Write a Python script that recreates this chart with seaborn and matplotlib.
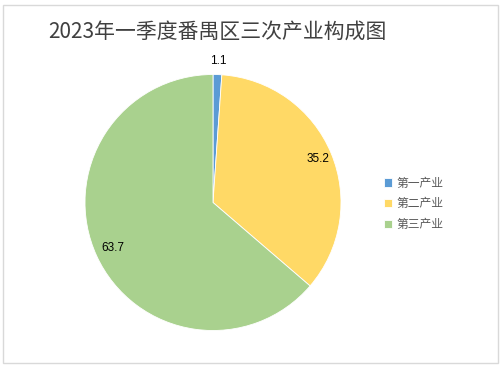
import matplotlib
matplotlib.use("Agg")
import matplotlib.pyplot as plt
import seaborn as sns
import numpy as np
from matplotlib.patches import Rectangle

categories = ["第一产业", "第二产业", "第三产业"]
values = [1.1, 35.2, 63.7]
value_labels = ["1.1", "35.2", "63.7"]
colors = ["#5B9BD5", "#FFD966", "#A9D18E"]
title = "2023年一季度番禺区三次产业构成图"

sns.set_theme(style="white")
plt.rcParams['font.family'] = ['Noto Sans CJK SC', 'DejaVu Sans']

fig = plt.figure(figsize=(5.03, 3.68), dpi=100)
ax = fig.add_axes([85/503, (368-330.5)/368, 256/503, 256/368])

wedges, _ = ax.pie(values, colors=colors, startangle=90, counterclock=False,
                   radius=1.0, wedgeprops=dict(edgecolor="white", linewidth=0.6))
ax.set_xlim(-1, 1)
ax.set_ylim(-1, 1)
ax.set_aspect("equal")
ax.axis("off")

dists = [1.11, 0.89, 0.86]
for w, lab, d in zip(wedges, value_labels, dists):
    ang = np.deg2rad((w.theta1 + w.theta2) / 2)
    ax.text(d * np.cos(ang), d * np.sin(ang), lab, ha="center", va="center",
            fontsize=8.5, color="#000000", family=["Liberation Sans"])

fig.text(48/503, 1 - 32/368, title, ha="left", va="center", fontsize=15,
         color="#404040", family=["Noto Sans CJK SC", "DejaVu Sans"])

leg = fig.legend(wedges, categories, loc="upper left",
                 bbox_to_anchor=(373/503, 1 - 166/368), frameon=False,
                 handlelength=0.7, handleheight=0.7, handletextpad=0.4,
                 labelspacing=0.65, fontsize=8.5, labelcolor="#595959")

fig.patches.append(Rectangle((3/503, 5/368), 495/503, 358/368, transform=fig.transFigure,
                             fill=False, edgecolor="#D9D9D9", linewidth=1.0))

fig.savefig("out.png", dpi=100)
